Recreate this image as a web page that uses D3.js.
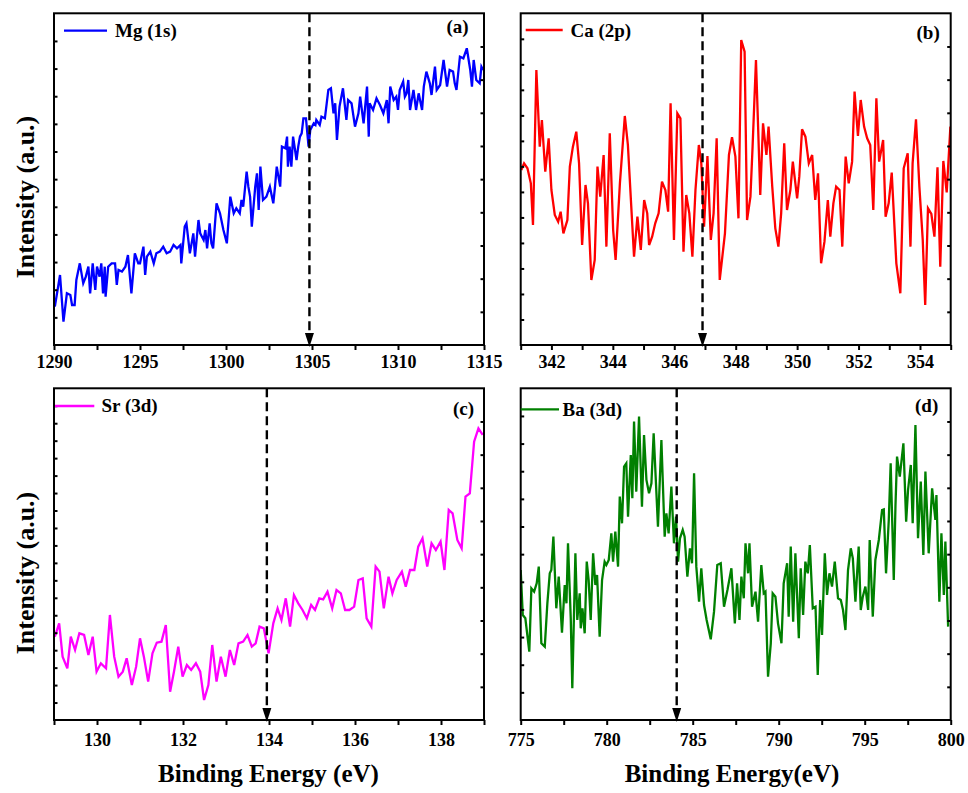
<!DOCTYPE html>
<html>
<head>
<meta charset="utf-8">
<script src="https://cdn.jsdelivr.net/npm/d3@7"></script>
<style>
  html, body { margin: 0; padding: 0; background: #fff; }
  svg text { font-family: "Liberation Serif", "Times New Roman", serif; font-weight: bold; fill: #000; }
</style>
</head>
<body>
<svg id="chart" width="968" height="793"></svg>
<script>
// ---- XPS spectra: [binding energy (eV), intensity (a.u.)] ----
const mg1s = [[1290.05,11.5],[1290.35,21.0],[1290.55,7.0],[1290.75,15.5],[1290.95,15.0],[1291.05,12.0],[1291.2,12.0],[1291.3,19.5],[1291.5,24.5],[1291.7,18.5],[1291.85,20.5],[1292.0,23.5],[1292.1,15.5],[1292.25,24.5],[1292.4,16.5],[1292.5,23.5],[1292.65,20.5],[1292.75,24.5],[1292.85,15.5],[1292.95,23.5],[1293.0,14.5],[1293.15,23.5],[1293.35,24.5],[1293.55,24.5],[1293.65,18.0],[1293.75,22.5],[1293.95,22.0],[1294.15,23.5],[1294.3,27.0],[1294.5,15.5],[1294.7,27.5],[1294.9,24.5],[1295.0,24.5],[1295.2,29.5],[1295.3,21.0],[1295.4,26.5],[1295.6,28.0],[1295.8,24.5],[1295.95,27.5],[1296.15,28.0],[1296.35,29.5],[1296.55,27.5],[1296.75,28.0],[1296.95,30.0],[1297.15,29.0],[1297.35,30.0],[1297.4,24.5],[1297.6,35.5],[1297.7,36.5],[1297.9,27.5],[1298.1,33.5],[1298.2,26.5],[1298.4,37.5],[1298.5,33.5],[1298.7,31.5],[1298.8,34.5],[1298.9,29.0],[1299.05,36.5],[1299.15,30.5],[1299.25,29.0],[1299.45,42.5],[1299.65,39.5],[1299.85,34.5],[1300.05,30.5],[1300.25,44.5],[1300.45,39.5],[1300.6,41.0],[1300.8,39.5],[1300.9,43.5],[1301.0,41.5],[1301.2,52.0],[1301.3,47.5],[1301.4,44.5],[1301.5,35.5],[1301.7,47.5],[1301.8,51.5],[1301.9,40.5],[1302.0,53.5],[1302.15,43.5],[1302.35,44.5],[1302.55,47.5],[1302.75,42.5],[1302.85,47.5],[1302.95,53.5],[1303.15,47.5],[1303.25,59.5],[1303.45,59.0],[1303.55,62.5],[1303.6,53.5],[1303.7,59.5],[1303.8,53.5],[1303.9,62.5],[1304.1,55.5],[1304.2,59.5],[1304.3,62.5],[1304.4,63.5],[1304.5,68.0],[1304.65,68.0],[1304.8,59.5],[1304.9,64.5],[1305.1,66.5],[1305.2,66.0],[1305.25,67.5],[1305.45,66.0],[1305.55,68.5],[1305.75,68.0],[1305.95,76.5],[1306.1,77.0],[1306.25,69.5],[1306.35,72.5],[1306.45,61.5],[1306.6,71.5],[1306.8,77.0],[1307.0,67.5],[1307.1,73.5],[1307.3,72.5],[1307.5,65.5],[1307.7,69.5],[1307.8,74.5],[1308.0,66.5],[1308.2,77.5],[1308.3,62.5],[1308.35,72.5],[1308.55,70.5],[1308.75,74.0],[1308.95,72.0],[1309.15,69.5],[1309.35,73.5],[1309.45,66.5],[1309.55,77.5],[1309.75,73.5],[1309.9,74.5],[1310.0,70.5],[1310.1,76.5],[1310.3,79.0],[1310.4,74.5],[1310.5,75.5],[1310.6,79.5],[1310.7,70.5],[1310.9,76.5],[1311.05,70.5],[1311.2,75.5],[1311.4,70.5],[1311.5,77.5],[1311.65,82.0],[1311.85,78.5],[1311.95,75.0],[1312.15,83.5],[1312.25,76.5],[1312.45,78.0],[1312.65,85.5],[1312.85,77.5],[1313.0,82.5],[1313.2,82.0],[1313.3,78.5],[1313.4,76.5],[1313.6,86.5],[1313.8,86.0],[1314.0,89.0],[1314.2,82.5],[1314.3,77.5],[1314.4,85.5],[1314.55,79.5],[1314.75,78.5],[1314.85,83.5],[1314.95,82.5]];

const ca2p = [[341.02,52.5],[341.11,54.5],[341.22,53.0],[341.33,48.5],[341.40,36.0],[341.51,82.5],[341.62,59.5],[341.69,67.5],[341.80,52.0],[341.91,62.0],[342.00,46.5],[342.11,39.0],[342.22,37.0],[342.30,40.0],[342.39,33.5],[342.52,37.5],[342.60,53.5],[342.70,59.5],[342.81,64.0],[342.90,54.5],[343.00,30.0],[343.11,48.0],[343.19,42.5],[343.30,19.5],[343.41,25.5],[343.50,53.5],[343.59,44.5],[343.70,57.0],[343.79,29.5],[343.90,63.5],[344.01,34.5],[344.09,25.5],[344.23,48.5],[344.39,68.7],[344.49,60.0],[344.60,41.5],[344.69,26.5],[344.80,38.5],[344.91,28.5],[345.02,43.5],[345.12,39.5],[345.18,30.0],[345.28,32.5],[345.38,36.5],[345.49,39.5],[345.60,49.0],[345.71,46.5],[345.80,40.0],[345.88,72.5],[345.99,31.5],[346.10,69.5],[346.20,68.0],[346.30,28.0],[346.39,45.0],[346.49,39.5],[346.59,26.5],[346.69,46.5],[346.80,60.0],[346.88,54.5],[346.97,35.5],[347.08,56.7],[347.19,31.5],[347.28,39.5],[347.38,62.0],[347.48,19.5],[347.65,33.5],[347.78,57.0],[347.88,62.3],[347.99,56.5],[348.09,38.0],[348.18,91.5],[348.29,88.0],[348.37,37.5],[348.48,44.5],[348.55,59.5],[348.66,85.5],[348.80,45.0],[348.89,66.5],[349.00,57.0],[349.07,65.5],[349.19,47.5],[349.29,35.0],[349.39,29.5],[349.48,39.5],[349.58,60.5],[349.67,40.5],[349.78,46.5],[349.86,55.0],[350.00,44.0],[350.07,50.5],[350.16,64.7],[350.27,62.5],[350.38,54.5],[350.49,57.0],[350.59,43.5],[350.68,51.5],[350.78,24.5],[350.89,31.0],[351.00,43.5],[351.08,32.5],[351.18,42.5],[351.27,47.5],[351.38,46.5],[351.47,29.5],[351.58,56.5],[351.68,48.5],[351.79,55.0],[351.87,76.0],[351.98,62.7],[352.07,73.5],[352.18,65.5],[352.28,62.0],[352.38,60.0],[352.48,40.5],[352.58,74.0],[352.67,55.0],[352.80,61.5],[352.88,38.5],[352.98,42.5],[353.08,51.7],[353.23,24.5],[353.36,15.5],[353.47,53.0],[353.60,57.5],[353.69,29.5],[353.76,54.5],[353.87,67.7],[353.98,47.5],[354.09,31.5],[354.17,12.0],[354.26,41.0],[354.37,39.3],[354.47,32.5],[354.57,53.3],[354.66,23.5],[354.76,55.2],[354.87,45.8],[354.99,65.5]];

const sr3d = [[129.02,25.0],[129.12,29.0],[129.20,19.0],[129.31,15.5],[129.39,25.0],[129.49,21.0],[129.59,26.0],[129.70,25.5],[129.80,19.5],[129.90,25.0],[129.99,14.5],[130.09,17.0],[130.21,15.5],[130.30,31.5],[130.40,19.0],[130.50,13.0],[130.60,14.5],[130.69,18.5],[130.81,10.5],[130.91,16.0],[131.00,24.5],[131.09,19.0],[131.19,11.5],[131.29,20.0],[131.39,23.2],[131.50,23.5],[131.60,28.5],[131.70,8.5],[131.79,14.5],[131.89,22.0],[131.99,13.0],[132.09,16.5],[132.19,15.0],[132.30,17.0],[132.40,14.5],[132.49,6.0],[132.59,10.5],[132.68,22.5],[132.78,11.5],[132.88,19.0],[132.99,13.0],[133.09,21.0],[133.19,16.5],[133.29,23.0],[133.40,23.5],[133.50,25.5],[133.60,22.0],[133.69,23.0],[133.78,28.0],[133.88,27.5],[133.99,20.0],[134.10,29.0],[134.20,33.5],[134.29,30.0],[134.39,36.5],[134.49,28.0],[134.58,37.5],[134.68,35.0],[134.78,33.0],[134.88,30.5],[134.98,34.5],[135.07,33.0],[135.17,36.5],[135.26,36.2],[135.36,38.5],[135.47,33.5],[135.57,39.0],[135.67,38.0],[135.77,33.0],[135.87,33.0],[135.98,34.0],[136.08,42.0],[136.18,42.5],[136.27,30.5],[136.38,28.0],[136.48,46.0],[136.57,44.5],[136.67,33.5],[136.78,43.0],[136.87,38.0],[136.97,42.0],[137.09,44.5],[137.18,40.0],[137.28,45.0],[137.38,45.0],[137.47,52.0],[137.57,54.5],[137.68,46.0],[137.78,53.0],[137.88,51.0],[137.99,53.5],[138.08,45.0],[138.18,63.0],[138.27,62.0],[138.38,54.0],[138.48,51.5],[138.57,67.0],[138.67,68.0],[138.77,83.5],[138.87,87.5],[138.97,85.5]];

const ba3d = [[775.00,45.0],[775.12,31.5],[775.27,30.5],[775.50,20.5],[775.62,39.5],[775.78,38.5],[775.93,41.0],[776.05,46.0],[776.20,23.0],[776.40,22.0],[776.55,35.0],[776.69,44.0],[776.78,45.0],[776.90,55.0],[777.07,33.5],[777.21,43.0],[777.40,26.2],[777.56,40.5],[777.66,35.0],[777.75,53.0],[777.91,30.5],[778.00,9.5],[778.18,50.0],[778.29,30.0],[778.43,38.0],[778.49,27.5],[778.59,33.5],[778.72,26.0],[778.84,47.5],[778.95,42.0],[779.07,30.0],[779.21,50.0],[779.34,40.5],[779.44,43.5],[779.59,25.0],[779.73,42.0],[779.88,47.5],[779.98,46.5],[780.12,48.0],[780.27,56.0],[780.37,47.5],[780.50,56.5],[780.66,46.0],[780.76,67.0],[780.89,59.0],[781.01,76.0],[781.14,77.0],[781.24,61.0],[781.40,79.5],[781.49,66.5],[781.59,89.5],[781.72,68.5],[781.88,91.0],[782.05,64.0],[782.17,85.5],[782.31,72.0],[782.46,68.0],[782.60,71.0],[782.73,86.0],[782.98,58.0],[783.18,84.0],[783.37,55.0],[783.47,62.0],[783.60,56.0],[783.76,70.0],[783.91,53.0],[784.03,61.0],[784.15,47.5],[784.26,54.5],[784.42,57.0],[784.53,55.0],[784.69,43.0],[784.84,51.5],[784.96,47.0],[785.08,74.0],[785.21,46.0],[785.37,35.5],[785.50,45.5],[785.66,34.5],[785.81,30.0],[786.05,24.2],[786.24,32.5],[786.43,46.5],[786.63,47.0],[786.82,34.0],[787.02,39.0],[787.25,45.5],[787.45,29.0],[787.58,41.0],[787.72,30.0],[787.83,43.0],[787.97,36.5],[788.07,53.0],[788.22,44.0],[788.30,53.0],[788.45,34.0],[788.65,38.5],[788.80,29.5],[788.99,46.5],[789.13,38.0],[789.23,38.5],[789.38,13.0],[789.54,23.0],[789.65,38.0],[789.81,37.0],[789.96,29.0],[790.16,23.0],[790.29,41.0],[790.49,47.0],[790.58,31.0],[790.70,52.0],[790.84,29.5],[790.97,50.0],[791.17,24.5],[791.28,45.5],[791.42,31.5],[791.55,47.5],[791.69,44.0],[791.81,52.5],[791.98,33.5],[792.14,34.0],[792.27,13.5],[792.41,36.0],[792.52,25.5],[792.68,50.0],[792.81,37.5],[792.95,44.0],[793.10,40.0],[793.26,47.5],[793.45,36.5],[793.61,36.0],[793.74,33.0],[793.88,27.0],[794.03,45.0],[794.19,51.5],[794.31,48.5],[794.46,35.5],[794.65,52.0],[794.77,33.0],[794.89,37.0],[795.04,40.0],[795.20,33.0],[795.29,54.0],[795.47,31.0],[795.62,48.0],[795.82,54.0],[796.01,63.0],[796.11,63.2],[796.24,44.0],[796.40,60.0],[796.51,77.0],[796.69,42.0],[796.79,64.5],[796.88,79.0],[797.04,73.0],[797.25,83.0],[797.41,59.5],[797.52,69.0],[797.68,76.5],[797.79,59.0],[797.95,88.5],[798.10,54.5],[798.26,71.5],[798.41,49.5],[798.53,74.5],[798.72,50.0],[798.92,69.5],[799.11,60.0],[799.17,67.5],[799.34,35.5],[799.46,56.0],[799.60,37.5],[799.69,53.5],[799.85,28.0]];

// ---- axis ranges and tick labels ----
const mgRange = [1290, 1315];
const caRange = [341, 355];
const srRange = [129, 139];
const baRange = [775, 800];

const mgTicks = [1290, 1295, 1300, 1305, 1310, 1315];
const caTicks = [342, 344, 346, 348, 350, 352, 354];
const srTicks = [130, 132, 134, 136, 138];
const baTicks = [775, 780, 785, 790, 795, 800];

const mgMinor = [1292.5, 1297.5, 1302.5, 1307.5, 1312.5];
const caMinor = [341, 343, 345, 347, 349, 351, 353, 355];
const srMinor = [129, 131, 133, 135, 137, 139];
const baMinor = [777.5, 782.5, 787.5, 792.5, 797.5];

// binding energies marked with the dashed arrows
const mgMarker = 1304.85;
const caMarker = 346.92;
const srMarker = 133.95;
const baMarker = 784.07;

// legend and panel captions
const seriesNames = ["Mg (1s)", "Ca (2p)", "Sr (3d)", "Ba (3d)"];
const panelTags = ["(a)", "(b)", "(c)", "(d)"];
const seriesColors = ["#0000ff", "#ff0000", "#ff00ff", "#008000"];
const xTitles = ["Binding Energy (eV)", "Binding Energy(eV)"];
const yTitle = "Intensity (a.u.)";

const intensityMax = 99.5;

const panels = [
  { data: mg1s, range: mgRange, ticks: mgTicks, minor: mgMinor, marker: mgMarker,
    box: { l: 54, r: 484, t: 13.3, b: 345 }, leftDiv: 12, rightDiv: 10,
    legend: { x0: 64, x1: 107, y: 30.7, tx: 115, ty: 37 }, tag: { x: 446.5, y: 33 }, labelPad: 5 },
  { data: ca2p, range: caRange, ticks: caTicks, minor: caMinor, marker: caMarker,
    box: { l: 520.7, r: 950.7, t: 13.3, b: 345 }, leftDiv: 13, rightDiv: 10,
    legend: { x0: 525.7, x1: 562.7, y: 30, tx: 570.5, ty: 36.5 }, tag: { x: 916.5, y: 39 }, labelPad: 5 },
  { data: sr3d, range: srRange, ticks: srTicks, minor: srMinor, marker: srMarker,
    box: { l: 54, r: 484, t: 388.3, b: 720 }, leftDiv: 19, rightDiv: 10,
    legend: { x0: 55, x1: 94.3, y: 406, tx: 101.5, ty: 412 }, tag: { x: 453, y: 415 }, labelPad: 8 },
  { data: ba3d, range: baRange, ticks: baTicks, minor: baMinor, marker: baMarker,
    box: { l: 520.7, r: 950.7, t: 388.3, b: 720 }, leftDiv: 12, rightDiv: 10,
    legend: { x0: 520.7, x1: 559, y: 409.3, tx: 562.5, ty: 415.5 }, tag: { x: 915, y: 412 }, labelPad: 8 }
];

const svg = d3.select("#chart");
const defs = svg.append("defs");

panels.forEach((p, i) => {
  const { l, r, t, b } = p.box;
  const x = d3.scaleLinear().domain(p.range).range([l, r]);
  const y = d3.scaleLinear().domain([0, intensityMax]).range([b, t]);
  const g = svg.append("g");

  defs.append("clipPath").attr("id", "clip" + i)
    .append("rect").attr("x", l).attr("y", t).attr("width", r - l).attr("height", b - t);

  // spectrum trace
  g.append("path")
    .datum(p.data)
    .attr("clip-path", "url(#clip" + i + ")")
    .attr("fill", "none")
    .attr("stroke", seriesColors[i])
    .attr("stroke-width", 2.3)
    .attr("stroke-linejoin", "miter")
    .attr("d", d3.line().x(d => x(d[0])).y(d => y(d[1])));

  // dashed marker with arrow head
  const mx = x(p.marker);
  g.append("line")
    .attr("x1", mx).attr("x2", mx)
    .attr("y1", t).attr("y2", b - 10)
    .attr("stroke", "#000").attr("stroke-width", 2.4)
    .attr("stroke-dasharray", "9,5");
  g.append("path")
    .attr("d", `M${mx - 4.5},${b - 12} L${mx + 4.5},${b - 12} L${mx},${b + 2} Z`)
    .attr("fill", "#000");

  // bottom axis: major ticks with labels, minor ticks without
  const bottom = g.append("g").attr("transform", `translate(0,${b})`);
  bottom.call(d3.axisBottom(x).tickValues(p.ticks).tickSize(5).tickPadding(p.labelPad)
      .tickFormat(d3.format("d")))
    .call(a => a.select(".domain").remove())
    .call(a => a.selectAll("line").attr("stroke", "#000").attr("stroke-width", 2))
    .call(a => a.selectAll("text").attr("font-size", 18)
      .style("font-family", '"Liberation Serif","Times New Roman",serif').style("font-weight", "bold"));
  g.append("g").attr("transform", `translate(0,${b})`)
    .call(d3.axisBottom(x).tickValues(p.minor).tickSize(5).tickFormat(""))
    .call(a => a.select(".domain").remove())
    .call(a => a.selectAll("line").attr("stroke", "#000").attr("stroke-width", 2));

  // inward ticks on left and right frame edges (no labels)
  const leftVals = d3.range(1, p.leftDiv).map(k => intensityMax * k / p.leftDiv);
  const rightVals = d3.range(1, p.rightDiv).map(k => intensityMax * k / p.rightDiv);
  g.append("g").attr("transform", `translate(${l},0)`)
    .call(d3.axisLeft(y).tickValues(leftVals).tickSize(-3.5).tickFormat(""))
    .call(a => a.select(".domain").remove())
    .call(a => a.selectAll("line").attr("stroke", "#000").attr("stroke-width", 2));
  g.append("g").attr("transform", `translate(${r},0)`)
    .call(d3.axisRight(y).tickValues(rightVals).tickSize(-3.5).tickFormat(""))
    .call(a => a.select(".domain").remove())
    .call(a => a.selectAll("line").attr("stroke", "#000").attr("stroke-width", 2));

  // frame
  g.append("rect")
    .attr("x", l).attr("y", t).attr("width", r - l).attr("height", b - t)
    .attr("fill", "none").attr("stroke", "#000").attr("stroke-width", 2);

  // legend
  g.append("line")
    .attr("x1", p.legend.x0).attr("x2", p.legend.x1)
    .attr("y1", p.legend.y).attr("y2", p.legend.y)
    .attr("stroke", seriesColors[i]).attr("stroke-width", 2.3);
  g.append("text").attr("x", p.legend.tx).attr("y", p.legend.ty)
    .attr("font-size", 19).text(seriesNames[i]);

  // panel caption
  g.append("text").attr("x", p.tag.x).attr("y", p.tag.y)
    .attr("font-size", 19).text(panelTags[i]);
});

// axis titles
svg.append("text").attr("x", 268.5).attr("y", 782).attr("text-anchor", "middle")
  .attr("font-size", 25).text(xTitles[0]);
svg.append("text").attr("x", 732).attr("y", 782).attr("text-anchor", "middle")
  .attr("font-size", 25).text(xTitles[1]);

[197, 573].forEach(cy => {
  svg.append("text")
    .attr("transform", `translate(33.5,${cy}) rotate(-90)`)
    .attr("text-anchor", "middle")
    .attr("font-size", 26)
    .text(yTitle);
});
</script>
</body>
</html>
